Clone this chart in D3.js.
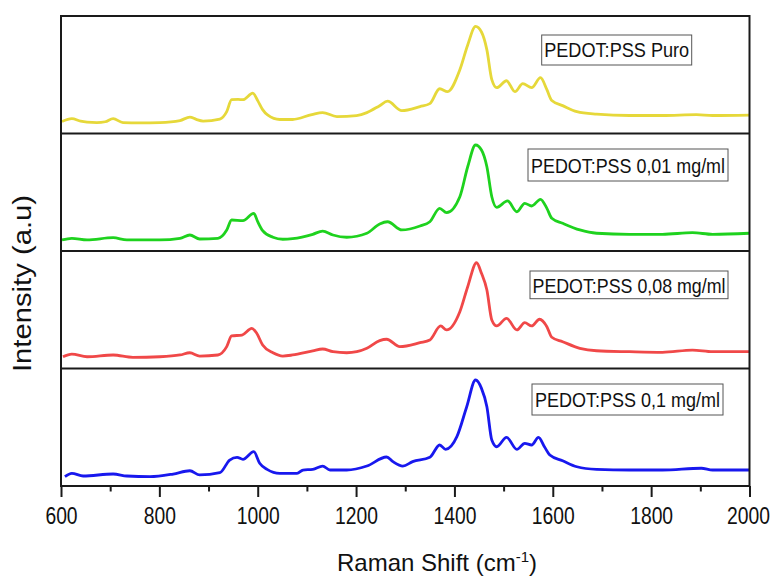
<!DOCTYPE html>
<html>
<head>
<meta charset="utf-8">
<script src="https://cdn.jsdelivr.net/npm/d3@7"></script>
<style>
  html, body { margin: 0; padding: 0; background: #fff; }
  svg { display: block; }
  text { font-family: "Liberation Sans", Arimo, Arial, sans-serif; fill: #111; }
</style>
</head>
<body>
<script>
// ---------------- DATA ----------------
const xMajorTicks = [600, 800, 1000, 1200, 1400, 1600, 1800, 2000];
const xMinorTicks = [700, 900, 1100, 1300, 1500, 1700, 1900];
const seriesLabels = ["PEDOT:PSS Puro", "PEDOT:PSS 0,01 mg/ml", "PEDOT:PSS 0,08 mg/ml", "PEDOT:PSS 0,1 mg/ml"];
const seriesColors = ["#e6d83a", "#1ed21e", "#f04848", "#1818ee"];

// [Raman shift (cm-1), intensity (a.u., % of panel)]
const puro = [[602,10.2],[622,12.7],[640,10.5],[653,9.7],[673,9.3],[690,10.0],[706,12.7],[726,9.3],[760,9.0],[801,9.3],[842,11.0],[862,14.0],[875,12.0],[889,10.6],[923,12.3],[937,18.6],[947,28.8],[960,29.0],[970,28.8],[990,34.3],[1000,28.0],[1010,20.3],[1020,15.8],[1045,11.9],[1071,11.9],[1110,16.1],[1132,17.8],[1161,14.4],[1201,15.3],[1222,17.8],[1248,23.7],[1264,27.5],[1293,19.5],[1330,22.9],[1350,25.4],[1370,38.1],[1386,35.6],[1411,54.2],[1427,75.4],[1443,91.1],[1455,86.4],[1466,71.2],[1476,45.8],[1486,39.0],[1506,44.9],[1523,35.6],[1539,42.4],[1557,39.0],[1575,47.5],[1588,37.3],[1598,28.0],[1620,23.7],[1649,18.6],[1689,16.5],[1756,15.3],[1823,15.3],[1892,16.1],[1925,15.3],[2000,15.7]];

const c001 = [[602,9.4],[622,10.8],[653,9.4],[706,11.3],[734,9.4],[801,9.4],[842,10.8],[862,13.6],[882,10.2],[919,10.8],[937,17.9],[947,26.4],[970,25.8],[992,32.1],[1000,24.9],[1010,17.3],[1031,11.7],[1051,10.0],[1071,10.5],[1112,14.2],[1132,17.0],[1153,13.6],[1181,11.7],[1222,15.1],[1248,23.0],[1264,24.9],[1293,17.9],[1330,21.3],[1350,24.9],[1370,36.3],[1384,32.6],[1411,46.2],[1427,71.7],[1443,90.2],[1455,86.0],[1466,71.7],[1476,46.2],[1486,37.2],[1508,42.6],[1527,33.4],[1543,40.6],[1557,38.3],[1575,44.0],[1588,36.3],[1598,27.8],[1620,23.6],[1655,17.9],[1689,15.1],[1756,14.2],[1823,14.2],[1884,15.6],[1925,14.2],[2000,15.1]];

const c008 = [[604,10.0],[622,12.3],[653,10.0],[706,11.5],[746,9.5],[801,10.0],[842,11.5],[862,13.4],[882,10.6],[919,11.5],[937,18.6],[947,27.7],[968,28.5],[988,34.2],[998,30.0],[1010,20.0],[1031,13.4],[1051,10.6],[1071,11.5],[1112,15.1],[1132,16.6],[1153,14.3],[1181,13.4],[1222,17.2],[1248,23.7],[1262,24.9],[1289,18.6],[1330,22.0],[1350,24.3],[1372,36.2],[1384,32.8],[1411,48.3],[1427,69.6],[1445,90.0],[1455,81.0],[1466,66.8],[1476,41.3],[1486,36.2],[1506,42.7],[1527,32.8],[1543,39.0],[1557,36.2],[1573,41.9],[1588,35.6],[1598,26.6],[1620,22.8],[1655,17.2],[1689,15.1],[1756,14.3],[1823,13.8],[1884,15.7],[1925,14.3],[2000,14.3]];

const c01 = [[608,7.9],[622,10.8],[645,8.5],[706,10.2],[734,8.5],[781,7.9],[828,10.2],[862,13.0],[882,9.4],[923,11.3],[943,22.1],[958,24.4],[970,22.7],[992,29.2],[1004,19.3],[1019,14.2],[1045,10.8],[1080,10.8],[1092,13.6],[1112,14.2],[1132,17.0],[1147,13.6],[1181,13.6],[1222,17.0],[1262,24.7],[1275,20.7],[1295,17.0],[1315,20.7],[1350,24.4],[1370,34.9],[1382,31.2],[1405,42.0],[1425,67.5],[1443,90.2],[1455,83.1],[1466,67.5],[1476,39.1],[1486,33.4],[1506,41.4],[1527,31.2],[1543,36.3],[1557,34.9],[1571,41.4],[1583,33.4],[1594,26.4],[1620,21.5],[1649,16.4],[1689,14.2],[1756,13.6],[1823,13.6],[1902,15.1],[1925,13.6],[2000,13.6]];

const allSeries = [puro, c001, c008, c01];

// ---------------- LAYOUT ----------------
const W = 774, H = 578;
const plotLeft = 61, plotRight = 749.5, plotTop = 16, plotBottom = 486;
const boxLayout = [
  {x: 541.7, w: 150, top: 19, h: 30, base: 41.3},
  {x: 528,   w: 200, top: 15.5, h: 32, base: 39.8},
  {x: 530,   w: 198, top: 20, h: 27.7, base: 41.7},
  {x: 532,   w: 191, top: 15.5, h: 31, base: 38.2}
];
const labelWidths = [145, 194, 193, 185];

const svg = d3.select("body").append("svg").attr("width", W).attr("height", H);

const x = d3.scaleLinear().domain([600, 2000]).range([plotLeft, plotRight]);
const panel = d3.scaleBand().domain(d3.range(allSeries.length)).range([plotTop, plotBottom]).paddingInner(0);

allSeries.forEach((data, i) => {
  const top = panel(i), h = panel.bandwidth();
  const y = d3.scaleLinear().domain([0, 100]).range([top + h, top]);
  const line = d3.line().x(d => x(d[0])).y(d => y(d[1])).curve(d3.curveMonotoneX);
  svg.append("path")
    .datum(data)
    .attr("d", line)
    .attr("fill", "none")
    .attr("stroke", seriesColors[i])
    .attr("stroke-width", 2.8)
    .attr("stroke-linejoin", "round");

  const b = boxLayout[i];
  svg.append("rect")
    .attr("x", b.x).attr("y", top + b.top)
    .attr("width", b.w).attr("height", b.h)
    .attr("fill", "#fff").attr("stroke", "#555").attr("stroke-width", 1);
  svg.append("text")
    .attr("x", b.x + b.w / 2).attr("y", top + b.base)
    .attr("text-anchor", "middle")
    .attr("font-size", 20.5)
    .attr("textLength", labelWidths[i])
    .attr("lengthAdjust", "spacingAndGlyphs")
    .text(seriesLabels[i]);
});

d3.range(1, allSeries.length).forEach(i => {
  svg.append("line")
    .attr("x1", plotLeft).attr("x2", plotRight)
    .attr("y1", panel(i)).attr("y2", panel(i))
    .attr("stroke", "#1a1a1a").attr("stroke-width", 2);
});

svg.append("rect")
  .attr("x", plotLeft).attr("y", plotTop)
  .attr("width", plotRight - plotLeft).attr("height", plotBottom - plotTop)
  .attr("fill", "none").attr("stroke", "#1a1a1a").attr("stroke-width", 2);

const gMajor = svg.append("g")
  .attr("transform", `translate(0,${plotBottom})`)
  .call(d3.axisBottom(x).tickValues(xMajorTicks).tickSize(11).tickPadding(11).tickFormat(d3.format("d")));
gMajor.select(".domain").remove();
gMajor.selectAll(".tick line").attr("stroke", "#1a1a1a").attr("stroke-width", 2);
gMajor.selectAll(".tick text")
  .attr("font-size", 19.3)
  .attr("fill", "#111")
  .attr("font-family", "'Liberation Sans', Arimo, Arial, sans-serif")
  .attr("dy", null)
  .attr("y", 30.4)
  .attr("transform", "scale(1,1.25)");
gMajor.selectAll(".tick").filter(d => d === 2000).select("text").attr("x", -1.5);

const gMinor = svg.append("g")
  .attr("transform", `translate(0,${plotBottom})`)
  .call(d3.axisBottom(x).tickValues(xMinorTicks).tickSize(5.5).tickFormat(""));
gMinor.select(".domain").remove();
gMinor.selectAll(".tick line").attr("stroke", "#1a1a1a").attr("stroke-width", 2);

const xt = svg.append("text")
  .attr("x", 437).attr("y", 570.5)
  .attr("text-anchor", "middle")
  .attr("font-size", 24);
xt.append("tspan").text("Raman Shift (cm");
xt.append("tspan").attr("font-size", 15).attr("dy", -9).text("-1");
xt.append("tspan").attr("dy", 9).text(")");

svg.append("text")
  .attr("transform", "translate(31,283.5) rotate(-90)")
  .attr("text-anchor", "middle")
  .attr("font-size", 25)
  .attr("textLength", 177)
  .attr("lengthAdjust", "spacingAndGlyphs")
  .text("Intensity (a.u)");
</script>
</body>
</html>
